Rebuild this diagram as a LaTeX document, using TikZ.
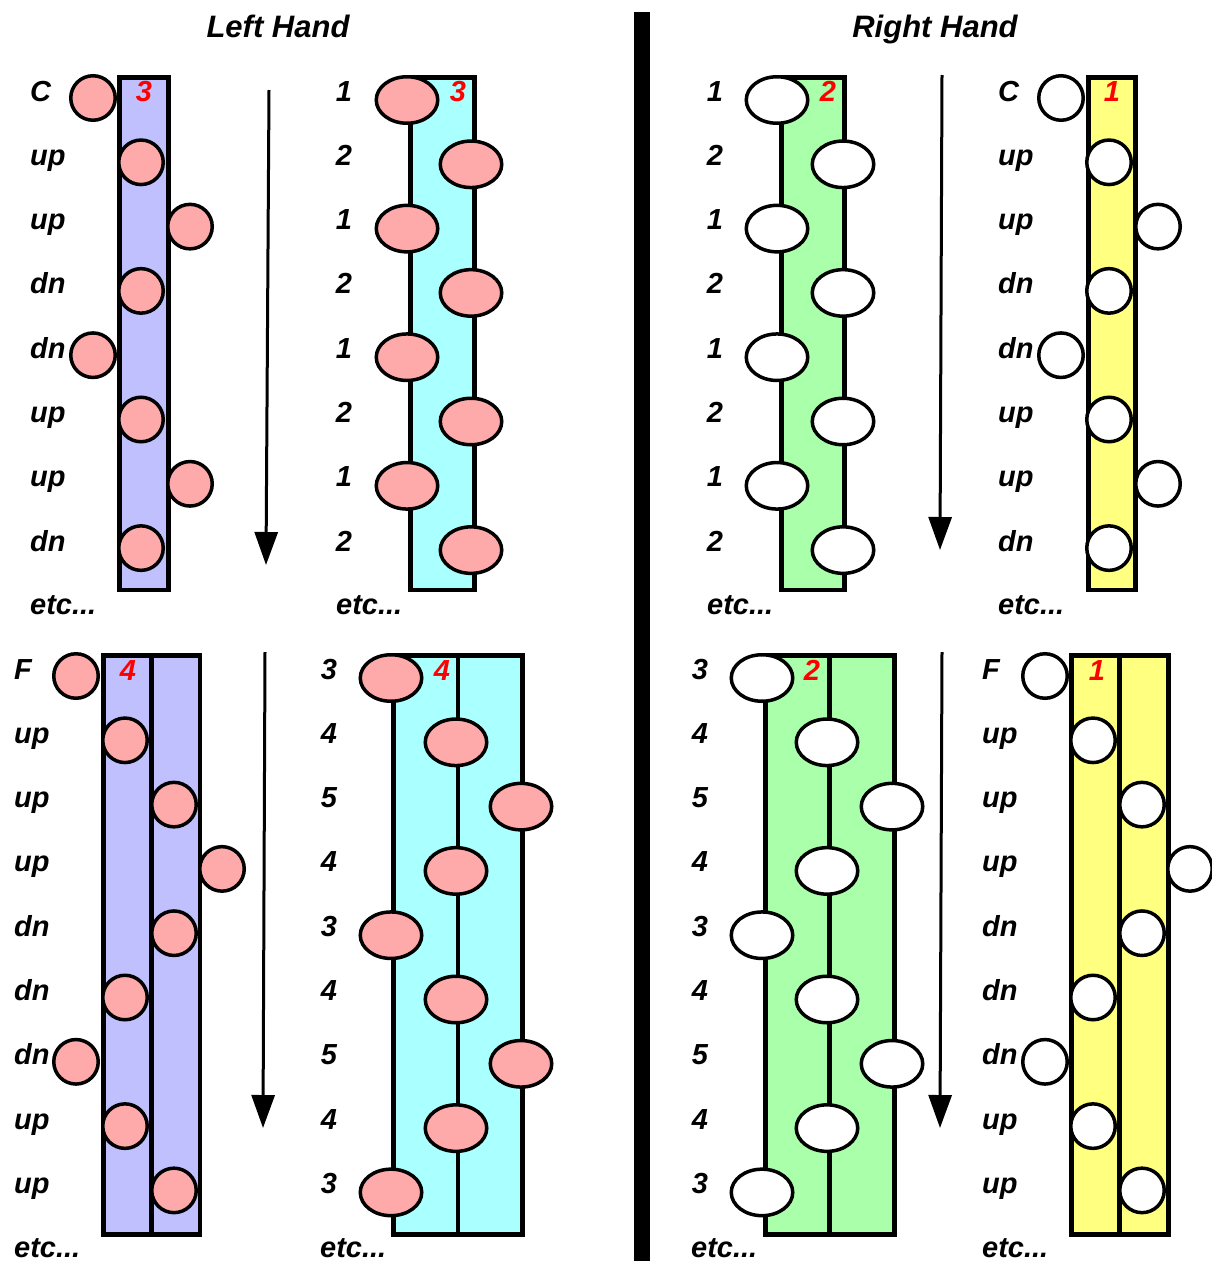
\documentclass[tikz,border=0pt]{standalone}
\usepackage{fontspec}
\setmainfont{Liberation Sans}
\usetikzlibrary{shapes.geometric,arrows.meta}
\definecolor{lav}{HTML}{C0C0FF}
\definecolor{pinkf}{HTML}{FFAAAA}
\definecolor{cyanf}{HTML}{AAFFFF}
\definecolor{greenf}{HTML}{AAFFAA}
\definecolor{yellf}{HTML}{FFFF80}
\begin{document}
\begin{tikzpicture}[x=1pt,y=-1pt,
  txt/.style={inner sep=0pt,font=\fontsize{29}{29}\selectfont\bfseries\itshape},
  lbl/.style={txt,anchor=base west},
  num/.style={txt,anchor=base},
  rednum/.style={txt,anchor=base,text=red},
  title/.style={txt,anchor=base,font=\fontsize{31}{31}\selectfont\bfseries\itshape},
  colbox/.style={draw=black,line width=4.5pt},
  dotp/.style={circle,draw=black,line width=3.5pt,fill=pinkf,minimum size=44.5pt,inner sep=0pt},
  dotw/.style={circle,draw=black,line width=3.5pt,fill=white,minimum size=44.5pt,inner sep=0pt},
  ellp/.style={ellipse,draw=black,line width=3.5pt,fill=pinkf,minimum width=61.5pt,minimum height=46.5pt,inner sep=0pt},
  ellw/.style={ellipse,draw=black,line width=3.5pt,fill=white,minimum width=61.5pt,minimum height=46.5pt,inner sep=0pt},
  arr/.style={line width=3pt,-{Triangle[length=33pt,width=23pt]}}]
\useasboundingbox (0,0) rectangle (1211,1261);
% divider bar
\fill[black] (634,12) rectangle (650,1261);
% titles
\node[title] (tleft) at (278,37) {Left Hand};
\node[title] (tright) at (935,37) {Right Hand};

% ---------- top-left: lavender, C ----------
\filldraw[colbox,fill=lav] (119.5,77.5) rectangle (168.5,590);
\node[rednum] (r1) at (144,101) {3};
\foreach \t/\x [count=\i] in {C/93,up/141,up/190,dn/141,dn/93,up/141,up/190,dn/141}{
  \node[dotp] (tl\i) at (\x,{98+64.3*(\i-1)}) {};
  \node[lbl] (tlt\i) at (30,{101+64.3*(\i-1)}) {\t};
}
\node[lbl] (tletc) at (30,614) {etc...};

% ---------- top-second: cyan ----------
\filldraw[colbox,fill=cyanf] (410.5,77.5) rectangle (474.5,590);
\node[rednum] (r2) at (458,101) {3};
\foreach \t/\x [count=\i] in {1/407,2/471,1/407,2/471,1/407,2/471,1/407,2/471}{
  \node[ellp] (tc\i) at (\x,{100+64.3*(\i-1)}) {};
  \node[num] (tct\i) at (344,{101+64.3*(\i-1)}) {\t};
}
\node[lbl] (tcetc) at (336,614) {etc...};

% ---------- top-third: green ----------
\filldraw[colbox,fill=greenf] (781.5,77.5) rectangle (844.5,590);
\node[rednum] (r3) at (828,101) {2};
\foreach \t/\x [count=\i] in {1/777,2/843,1/777,2/843,1/777,2/843,1/777,2/843}{
  \node[ellw] (tg\i) at (\x,{100+64.3*(\i-1)}) {};
  \node[num] (tgt\i) at (715,{101+64.3*(\i-1)}) {\t};
}
\node[lbl] (tgetc) at (707,614) {etc...};

% ---------- top-fourth: yellow, C ----------
\filldraw[colbox,fill=yellf] (1088.5,77.5) rectangle (1135.5,590);
\node[rednum] (r4) at (1112,101) {1};
\foreach \t/\x [count=\i] in {C/1061,up/1109,up/1158,dn/1109,dn/1061,up/1109,up/1158,dn/1109}{
  \node[dotw] (ty\i) at (\x,{98+64.3*(\i-1)}) {};
  \node[lbl] (tyt\i) at (998,{101+64.3*(\i-1)}) {\t};
}
\node[lbl] (tyetc) at (998,614) {etc...};

% ---------- bottom-left: lavender double, F ----------
\filldraw[colbox,fill=lav] (103.5,655.5) rectangle (200,1234.5);
\draw[colbox] (151.5,655.5) -- (151.5,1234.5);
\node[rednum] (r5) at (128,680) {4};
\foreach \t/\x [count=\i] in {F/76,up/125,up/174,up/222,dn/174,dn/125,dn/76,up/125,up/174}{
  \node[dotp] (bl\i) at (\x,{676+64.3*(\i-1)}) {};
  \node[lbl] (blt\i) at (14,{679+64.3*(\i-1)}) {\t};
}
\node[lbl] (bletc) at (14,1257) {etc...};

% ---------- bottom-second: cyan double ----------
\filldraw[colbox,fill=cyanf] (393.5,655.5) rectangle (522.5,1234.5);
\draw[colbox] (458,655.5) -- (458,1234.5);
\node[rednum] (r6) at (442,680) {4};
\foreach \t/\x [count=\i] in {3/391,4/456,5/521,4/456,3/391,4/456,5/521,4/456,3/391}{
  \node[ellp] (bc\i) at (\x,{678+64.3*(\i-1)}) {};
  \node[num] (bct\i) at (329,{679+64.3*(\i-1)}) {\t};
}
\node[lbl] (bcetc) at (320,1257) {etc...};

% ---------- bottom-third: green double ----------
\filldraw[colbox,fill=greenf] (765.5,655.5) rectangle (894.5,1234.5);
\draw[colbox] (829.5,655.5) -- (829.5,1234.5);
\node[rednum] (r7) at (812,680) {2};
\foreach \t/\x [count=\i] in {3/762,4/827,5/892,4/827,3/762,4/827,5/892,4/827,3/762}{
  \node[ellw] (bg\i) at (\x,{678+64.3*(\i-1)}) {};
  \node[num] (bgt\i) at (700,{679+64.3*(\i-1)}) {\t};
}
\node[lbl] (bgetc) at (691,1257) {etc...};

% ---------- bottom-fourth: yellow double, F ----------
\filldraw[colbox,fill=yellf] (1071.5,655.5) rectangle (1168.5,1234.5);
\draw[colbox] (1119.5,655.5) -- (1119.5,1234.5);
\node[rednum] (r8) at (1097,680) {1};
\foreach \t/\x [count=\i] in {F/1045,up/1093,up/1142,up/1190,dn/1142,dn/1093,dn/1045,up/1093,up/1142}{
  \node[dotw] (by\i) at (\x,{676+64.3*(\i-1)}) {};
  \node[lbl] (byt\i) at (982,{679+64.3*(\i-1)}) {\t};
}
\node[lbl] (byetc) at (982,1257) {etc...};

% ---------- arrows ----------
\coordinate (a1s) at (269,90);  \coordinate (a1e) at (266,565);
\coordinate (a2s) at (942,75);  \coordinate (a2e) at (940,550);
\coordinate (a3s) at (265,652); \coordinate (a3e) at (263,1128);
\coordinate (a4s) at (942,652); \coordinate (a4e) at (940,1128);
\draw[arr] (a1s) -- (a1e);
\draw[arr] (a2s) -- (a2e);
\draw[arr] (a3s) -- (a3e);
\draw[arr] (a4s) -- (a4e);
\end{tikzpicture}
\end{document}
